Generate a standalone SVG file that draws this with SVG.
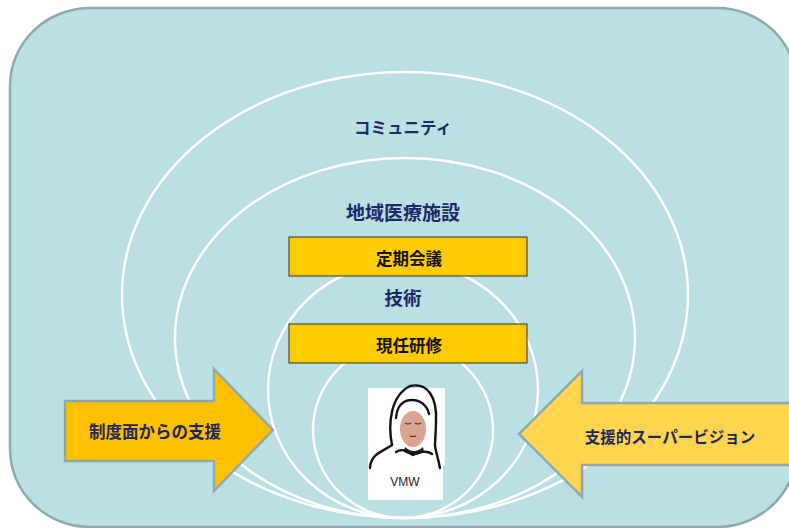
<svg xmlns="http://www.w3.org/2000/svg" width="789" height="528" viewBox="0 0 789 528">
  <style>
    .ring { fill: none; stroke: #ffffff; stroke-width: 2.5; }
    .lbl { font-family: "Noto Sans CJK JP", "Noto Sans", sans-serif; font-weight: bold; fill: #1b2a68; text-anchor: middle; }
    .box { fill: #ffcc00; stroke: #333333; stroke-width: 1; }
    .boxtxt { font-family: "Noto Sans CJK JP", "Noto Sans", sans-serif; font-weight: bold; font-size: 16.5px; fill: #111111; text-anchor: middle; }
    .arrtxt { font-family: "Noto Sans CJK JP", "Noto Sans", sans-serif; font-weight: bold; fill: #1f2560; text-anchor: middle; }
    .ink { fill: none; stroke: #111111; stroke-width: 2.4; stroke-linecap: round; stroke-linejoin: round; }
  </style>

  <!-- background panel -->
  <g id="panel">
    <rect x="10" y="8" width="787" height="519" rx="80" ry="78" fill="#bbe0e3" stroke="#8ea9ad" stroke-width="2.5"/>
  </g>

  <!-- nested circles of influence -->
  <g id="rings">
    <ellipse class="ring" cx="405" cy="295" rx="283" ry="223"/>
    <ellipse class="ring" cx="405" cy="338" rx="230" ry="180"/>
    <ellipse class="ring" cx="403" cy="390" rx="135" ry="128"/>
    <ellipse class="ring" cx="403" cy="430" rx="90" ry="88"/>
  </g>

  <g id="community"><text class="lbl" x="403" y="133.5" font-size="16.5">コミュニティ</text></g>
  <g id="facility"><text class="lbl" x="403" y="220" font-size="19">地域医療施設</text></g>
  <g id="skill"><text class="lbl" x="403" y="305" font-size="18.5" fill="#2b3480">技術</text></g>

  <g id="meeting">
    <rect class="box" x="289" y="237" width="238" height="39"/>
    <text class="boxtxt" x="409" y="265">定期会議</text>
  </g>
  <g id="training">
    <rect class="box" x="289" y="324" width="238" height="39"/>
    <text class="boxtxt" x="409" y="351.5">現任研修</text>
  </g>

  <!-- support arrows -->
  <g id="institutional">
    <polygon points="65,401 214,401 214,369 273,430 214,491 214,461 65,461" fill="#ffc000" stroke="#8ea9ad" stroke-width="2.5"/>
    <text class="arrtxt" x="155" y="438" font-size="16.5">制度面からの支援</text>
  </g>
  <g id="supervision">
    <polygon points="800,403 582,403 582,371 519,434 582,497 582,465 800,465" fill="#ffd54f" stroke="#8ea9ad" stroke-width="2.5"/>
    <text class="arrtxt" x="670" y="443" font-size="15.5">支援的スーパービジョン</text>
  </g>

  <!-- village midwife figure -->
  <g id="vmw">
    <path d="M368,388 H445 V466 H443 V500 H368 Z" fill="#ffffff"/>
    <ellipse cx="413" cy="429" rx="13" ry="18" fill="#d9a590"/>
    <path d="M405,447 Q414,455 423,447 L424,452 Q414,458 404,452 Z" fill="#2a1a10"/>
    <path class="ink" d="M392,445 C388,425 390,396 410,386 C428,382 437,398 436,420 C436,432 435,440 435,446"/>
    <path class="ink" d="M396,418 C397,405 404,400 412,400 C420,400 427,405 429,414"/>
    <path class="ink" d="M392,445 C385,450 378,452 374,457 C371,461 370,465 370,468"/>
    <path class="ink" d="M435,446 C436,452 438,458 440,468"/>
    <path class="ink" d="M396,452 C402,448 407,451 413,455 C420,452 426,450 432,454"/>
    <path d="M405,423 q3,2 6,0 M415,423 q3,2 6,0 M410,436 q3,1 6,0" fill="none" stroke="#5a2a1a" stroke-width="1.2"/>
    <text x="405" y="486" font-family="Liberation Sans, Arial, sans-serif" font-size="12" fill="#222222" text-anchor="middle">VMW</text>
  </g>
</svg>
